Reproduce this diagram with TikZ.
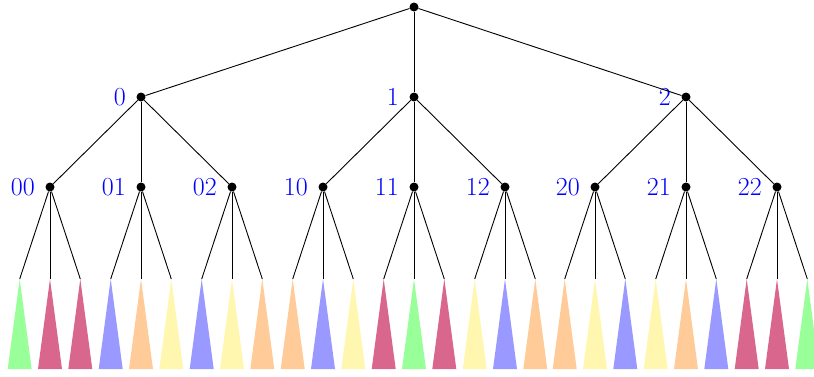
\documentclass[tikz,border=0pt]{standalone}
\usepackage{fontspec}
\definecolor{cg}{RGB}{153,255,153}
\definecolor{cr}{RGB}{217,102,140}
\definecolor{cb}{RGB}{153,153,255}
\definecolor{co}{RGB}{255,204,153}
\definecolor{cy}{RGB}{255,247,176}
\begin{document}
\begin{tikzpicture}[x=1pt,y=-1pt,
  dot/.style={circle,fill=black,inner sep=0pt,minimum size=9pt},
  lab/.style={text=blue,font=\fontsize{26}{30}\selectfont,anchor=east,inner sep=0pt},
  edge/.style={line width=0.9pt,black}]
\useasboundingbox (0,0) rectangle (814,376);
\node[dot] (r) at (414,7) {};
\foreach \i/\x in {0/141,1/414,2/686} {
  \node[dot] (n\i) at (\x,97) {};
  \node[lab] (t\i) at ({\x-15},97) {\i};
  \draw[edge] (r) -- (n\i);
  \foreach \j in {0,1,2} {
    \pgfmathsetmacro{\xx}{\x+(\j-1)*91}
    \node[dot] (n\i\j) at (\xx,187) {};
    \node[lab] (t\i\j) at ({\xx-15},187) {\i\j};
    \draw[edge] (n\i) -- (n\i\j);
    \foreach \k in {0,1,2} {
      \pgfmathsetmacro{\xl}{\xx+(\k-1)*30.3}
      \coordinate (l\i\j\k) at (\xl,279);
    }
  }
}
\foreach \i/\j/\ca/\cb/\cc in {0/0/cg/cr/cr,0/1/cb/co/cy,0/2/cb/cy/co,
  1/0/co/cb/cy,1/1/cr/cg/cr,1/2/cy/cb/co,
  2/0/co/cy/cb,2/1/cy/co/cb,2/2/cr/cr/cg} {
  \foreach \k/\c in {0/\ca,1/\cb,2/\cc} {
    \fill[\c] (l\i\j\k) -- ++(-12,90) -- ++(24,0) -- cycle;
    \draw[edge] (n\i\j) -- (l\i\j\k);
  }
}
\end{tikzpicture}
\end{document}
